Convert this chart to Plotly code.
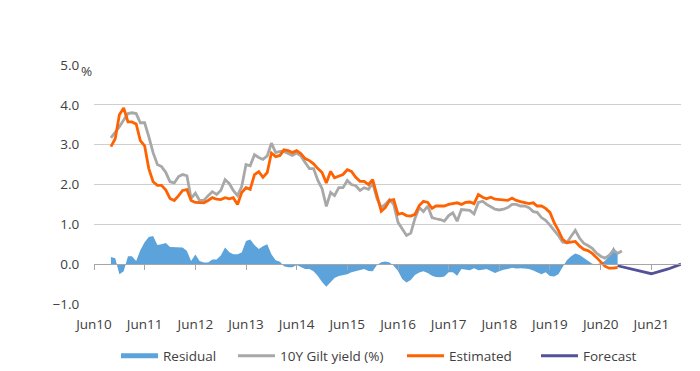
import plotly.graph_objects as go
import pandas as pd

# Monthly data starting Oct 2010
gilt = [3.17, 3.3, 3.45, 3.62, 3.78, 3.8, 3.78, 3.55, 3.55, 3.2,
        2.8, 2.5, 2.45, 2.3, 2.07, 2.04, 2.2, 2.25, 2.22, 1.65,
        1.78, 1.6, 1.6, 1.72, 1.82, 1.75, 1.85, 2.12, 2.02, 1.85,
        1.72, 1.95, 2.5, 2.47, 2.75, 2.68, 2.63, 2.72, 3.04, 2.8,
        2.83, 2.83, 2.78, 2.73, 2.79, 2.72, 2.55, 2.4, 2.4, 2.1,
        1.9, 1.45, 1.8, 1.72, 1.92, 1.92, 2.1, 2.0, 1.97, 1.85,
        1.92, 1.88, 2.04, 1.65, 1.42, 1.5, 1.62, 1.5, 1.05, 0.9,
        0.72, 0.78, 1.15, 1.42, 1.32, 1.46, 1.17, 1.14, 1.12, 1.08,
        1.22, 1.29, 1.08, 1.37, 1.36, 1.35, 1.26, 1.55, 1.58, 1.5,
        1.44, 1.38, 1.36, 1.38, 1.42, 1.5, 1.5, 1.46, 1.46, 1.42,
        1.32, 1.3, 1.17, 1.1, 0.98, 0.85, 0.72, 0.55, 0.54, 0.7,
        0.85, 0.65, 0.52, 0.47, 0.4, 0.28, 0.2, 0.15, 0.22, 0.35,
        0.27, 0.33]

estimated = [2.95, 3.15, 3.75, 3.92, 3.57, 3.57, 3.52, 3.1, 2.97, 2.4,
             2.07, 1.98, 1.98, 1.86, 1.65, 1.6, 1.72, 1.85, 1.87, 1.6,
             1.55, 1.54, 1.54, 1.6, 1.67, 1.63, 1.62, 1.67, 1.64, 1.67,
             1.5, 1.8, 1.92, 1.88, 2.25, 2.32, 2.18, 2.3, 2.79, 2.7,
             2.73, 2.87, 2.85, 2.8, 2.85, 2.78, 2.65, 2.6, 2.52, 2.4,
             2.3, 2.04, 2.33, 2.17, 2.22, 2.25, 2.37, 2.33, 2.18, 2.08,
             2.08, 2.0, 2.12, 1.7, 1.33, 1.42, 1.6, 1.62, 1.25, 1.28,
             1.22, 1.21, 1.25, 1.47, 1.58, 1.55, 1.4, 1.46, 1.46, 1.46,
             1.5, 1.52, 1.54, 1.5, 1.55, 1.56, 1.52, 1.75, 1.68, 1.64,
             1.68, 1.63, 1.62, 1.62, 1.6, 1.66, 1.6, 1.57, 1.54, 1.52,
             1.54, 1.46, 1.46, 1.4, 1.3, 1.05, 0.85, 0.62, 0.54, 0.55,
             0.57, 0.45, 0.37, 0.34, 0.27, 0.17, 0.06, -0.05, -0.1, -0.1,
             -0.08]

residual = [0.18, 0.15, -0.25, -0.18, 0.2, 0.2, 0.08, 0.35, 0.55, 0.68,
            0.71, 0.48, 0.5, 0.53, 0.43, 0.43, 0.43, 0.42, 0.33, 0.08,
            0.24, 0.08, 0.04, 0.04, 0.12, 0.12, 0.22, 0.42, 0.3, 0.25,
            0.25, 0.29, 0.58, 0.62, 0.48, 0.38, 0.45, 0.5, 0.25, 0.1,
            0.06, -0.05, -0.08, -0.08, -0.02, -0.06, -0.12, -0.12, -0.18, -0.3,
            -0.45, -0.57, -0.45, -0.35, -0.3, -0.28, -0.25, -0.2, -0.17, -0.14,
            -0.12, -0.17, -0.18, -0.02, 0.05, 0.07, 0.04, -0.04, -0.17, -0.37,
            -0.46, -0.4, -0.27, -0.21, -0.18, -0.22, -0.29, -0.32, -0.33, -0.31,
            -0.2, -0.2, -0.29, -0.12, -0.14, -0.15, -0.1, -0.15, -0.14, -0.12,
            -0.17, -0.22, -0.18, -0.14, -0.12, -0.09, -0.11, -0.1, -0.11, -0.12,
            -0.16, -0.2, -0.25, -0.2, -0.3, -0.31, -0.25, -0.07, 0.1, 0.2,
            0.27, 0.23, 0.15, 0.08, 0.01, 0.0, 0.02, 0.08, 0.2, 0.44,
            0.25]

forecast_dates = ["2020-10-01", "2021-06-01", "2021-10-01", "2022-01-01"]
forecast = [-0.04, -0.24, -0.12, 0.0]

tick_dates = ["%d-06-01" % y for y in range(2010, 2022)]
tick_labels = ["Jun%02d" % (y % 100) for y in range(2010, 2022)]

months = pd.date_range("2010-10-01", periods=len(gilt), freq="MS")

BLUE = "#5BA3DA"
fig = go.Figure()
fig.add_trace(go.Scatter(x=months[:len(residual)], y=residual, name="Residual",
                         mode="lines", fill="tozeroy", line=dict(width=0, color=BLUE),
                         fillcolor=BLUE, showlegend=False))
# legend-only entry for the residual area (thick bar symbol)
fig.add_trace(go.Scatter(x=[None], y=[None], name="Residual", mode="lines",
                         line=dict(width=5, color=BLUE), legend="legend"))
fig.add_trace(go.Scatter(x=months[:len(gilt)], y=gilt, name="10Y Gilt yield (%)",
                         mode="lines", line=dict(width=2.8, color="#A8A8A8"),
                         legend="legend2"))
fig.add_trace(go.Scatter(x=months[:len(estimated)], y=estimated, name="Estimated",
                         mode="lines", line=dict(width=2.8, color="#FF6200"),
                         legend="legend3"))
fig.add_trace(go.Scatter(x=forecast_dates, y=forecast, name="Forecast", xaxis="x2",
                         mode="lines", line=dict(width=2.8, color="#525199"),
                         legend="legend4"))

FONT = "Open Sans"


def leg(x):
    return dict(orientation="h", xref="container", yref="container",
                x=x, xanchor="left", y=0.062, yanchor="middle",
                itemwidth=37, font=dict(family=FONT, size=13.5, color="#404040"),
                bgcolor="rgba(0,0,0,0)")


xr = ["2010-06-01", "2022-01-01"]
fig.update_layout(
    width=700, height=371,
    margin=dict(l=86, r=27, t=57, b=75, autoexpand=False),
    paper_bgcolor="white", plot_bgcolor="white",
    font=dict(family=FONT, size=13.5, color="#404040"),
    showlegend=True,
    legend=leg(108 / 700),
    legend2=leg(225 / 700),
    legend3=leg(394 / 700),
    legend4=leg(528 / 700),
    xaxis=dict(type="date", range=xr, tickvals=tick_dates, ticktext=tick_labels,
               showgrid=False, zeroline=False, showline=False,
               ticks="outside", ticklen=8, tickcolor="rgba(0,0,0,0)"),
    xaxis2=dict(type="date", range=xr, overlaying="x", matches="x", anchor="free",
                position=1/6, showline=True, linecolor="#A6A6A6", linewidth=1,
                ticks="outside", ticklen=5, tickcolor="#A6A6A6", tickwidth=1,
                tickvals=tick_dates, showticklabels=False, showgrid=False, zeroline=False),
    yaxis=dict(range=[-1, 5], dtick=1, tickformat=".1f", showgrid=True,
               gridcolor="#CFCFCF", gridwidth=1, zeroline=False, showline=False,
               ticks="outside", ticklen=11, tickcolor="rgba(0,0,0,0)"),
    annotations=[dict(text="%", xref="paper", yref="paper", x=-0.012, y=0.975,
                      xanchor="center", yanchor="middle", showarrow=False,
                      font=dict(family=FONT, size=13.5, color="#404040"))],
)

fig.write_html("out.html")
